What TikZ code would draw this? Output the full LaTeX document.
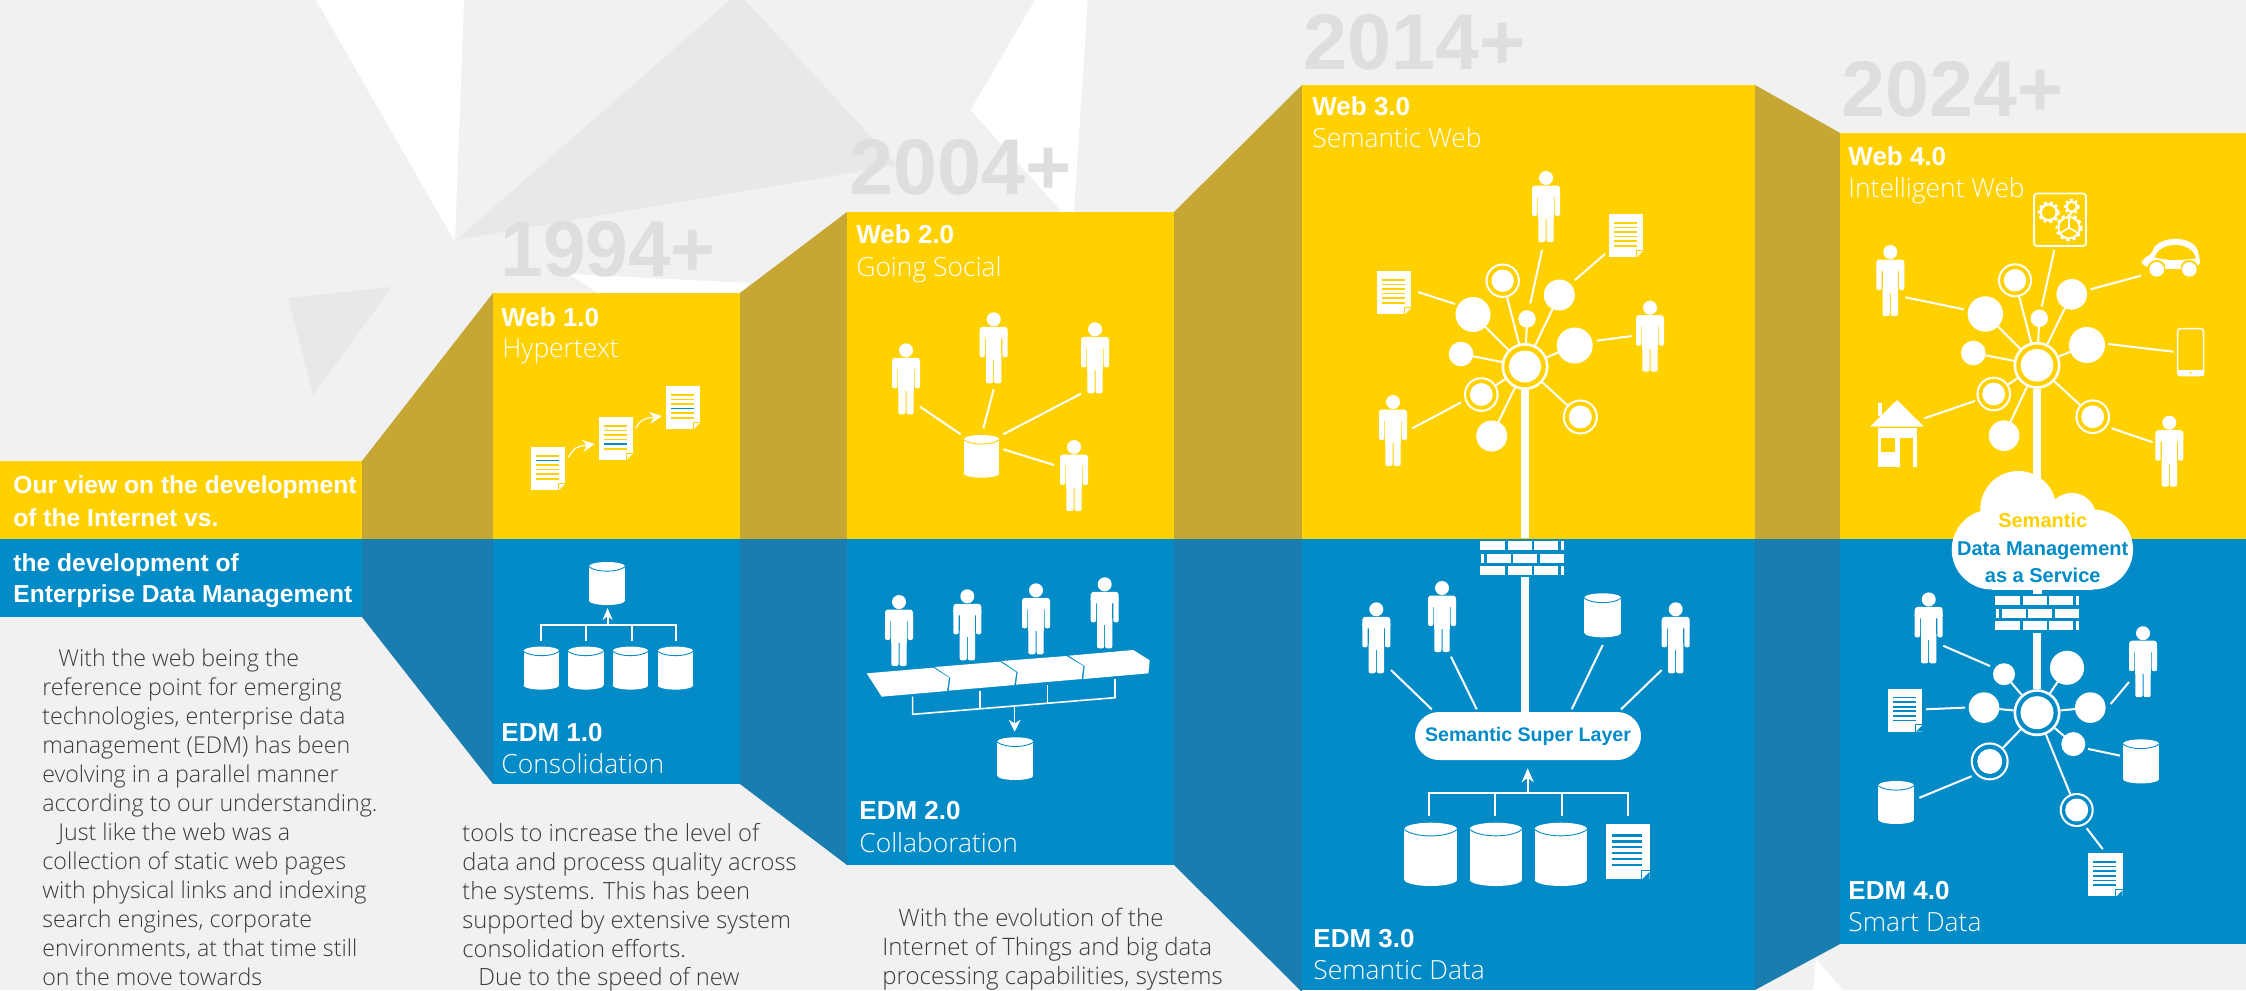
\documentclass[tikz,border=0pt]{standalone}
\usepackage{fontspec}
\setmainfont{Liberation Sans}
\newfontfamily\lightf{Open Sans Light}
\usetikzlibrary{arrows.meta}
\definecolor{webyellow}{HTML}{FFD100}
\definecolor{edmblue}{HTML}{038BC7}
\definecolor{sideolive}{HTML}{C6A734}
\definecolor{sideblue}{HTML}{1A7DB0}
\definecolor{pagebg}{HTML}{F1F1F1}
\definecolor{trigrey}{HTML}{E7E9E8}
\definecolor{yeargrey}{HTML}{DCDEDF}
\definecolor{bodygrey}{HTML}{3A3A3A}
\colorlet{bgc}{webyellow}
\tikzset{
  yeartext/.style={anchor=base west,inner sep=0pt,text=yeargrey,font=\fontsize{39.5pt}{40pt}\selectfont\bfseries},
  headbold/.style={anchor=base west,inner sep=0pt,text=white,font=\fontsize{13pt}{13pt}\selectfont\bfseries},
  headlight/.style={anchor=base west,inner sep=0pt,text=white,font=\fontsize{13.2pt}{13pt}\selectfont\lightf},
  bannertext/.style={anchor=base west,inner sep=0pt,text=white,font=\fontsize{12.3pt}{12.6pt}\selectfont\bfseries},
  bodytext/.style={anchor=base west,inner sep=0pt,text=bodygrey,font=\fontsize{11.6pt}{11.6pt}\selectfont\lightf},
  bodytextb/.style={bodytext,font=\fontsize{11.85pt}{11.6pt}\selectfont\lightf},
  bodytextc/.style={bodytext,font=\fontsize{12pt}{11.6pt}\selectfont\lightf},
  cloudtext/.style={anchor=base,inner sep=0pt,font=\fontsize{10pt}{10pt}\selectfont\bfseries},
  satnode/.style={circle,fill=white,draw=none,inner sep=0pt,outer sep=0pt},
  spoke/.style={draw=white,line width=1pt},
  link/.style={draw=white,line width=1pt},
  stem/.style={draw=white,line width=4pt},
  bus/.style={draw=white,line width=0.9pt},
  pics/person/.style={code={
    \fill[white] (0,7) circle (7);
    \fill[white,rounded corners=1.5pt] (-14,26) -- (-14,14.5) -- (14,14.5) -- (14,26) -- cycle;
    \fill[white,rounded corners=1pt] (-14,20) rectangle (-8.7,45);
    \fill[white,rounded corners=1pt] (8.7,20) rectangle (14,45);
    \fill[white] (-7.7,15) rectangle (7.7,48);
    \fill[white,rounded corners=1pt] (-7.7,40) rectangle (-0.5,71);
    \fill[white,rounded corners=1pt] (0.5,40) rectangle (7.7,71);
  }},
  pics/cyl/.style 2 args={code={
    \pgfmathsetmacro\cylry{#1*0.12}
    \pgfmathsetmacro\cylrx{#1*0.5}
    \fill[white] (\cylrx,\cylry) ellipse ({\cylrx} and {\cylry});
    \fill[white] (0,\cylry) rectangle (#1,#2-\cylry);
    \fill[white] (\cylrx,#2-\cylry) ellipse ({\cylrx} and {\cylry});
    \draw[bgc,line width=0.45pt] (0,\cylry+0.5) .. controls (#1*0.2,2.35*\cylry+0.5) and (#1*0.8,2.35*\cylry+0.5) .. (#1,\cylry+0.5);
  }},
  pics/docpage/.style={code={
    \fill[white] (0,0) rectangle (34.3,43);
    \foreach \i in {1,...,6}{
      \ifnum\i=#1\relax\def\linecol{edmblue}\else\def\linecol{bgc}\fi
      \fill[\linecol] (5,4.2+\i*4.6-0.85) rectangle (28,4.2+\i*4.6+0.85);
    }
    \fill[bgc] (34.3,37) -- (34.3,43) -- (28.3,43) -- cycle;
    \draw[bgc,line width=0.35pt] (27.5,43) -- (27.5,36) -- (34.3,36);
  }},
  pics/wall/.style={code={
    \foreach \a/\b in {0/25,27.7/51.7,54.3/78.3,81/84.3}{
      \fill[white] (\a,0) rectangle (\b,9.3);
      \fill[white] (\a,25) rectangle (\b,34);
    }
    \foreach \a/\b in {1/3.7,7.3/30.7,33.3/57.3,60/84.3}{
      \fill[white] (\a,12.7) rectangle (\b,21.7);
    }
  }},
}
\newcommand\satn[3]{\node[satnode,minimum size=#3 pt] (#1) at (#2) {};}
\newcommand\ringn[5]{\node[satnode,minimum size=#3 pt] (#1) at (#2) {};
  \fill[bgc] (#1.center) circle ({#3-#5});
  \fill[white] (#1.center) circle (#4);}
\newcommand\lnk[3]{\coordinate (#1a) at (#2); \coordinate (#1b) at (#3); \draw[link] (#1a) -- (#1b);}
\begin{document}
\begin{tikzpicture}[x=0.5pt,y=-0.5pt]
\useasboundingbox (0,0) rectangle (2246,990);
\clip (0,0) rectangle (2246,990);
\fill[pagebg] (0,0) rectangle (2246,990);
% background shards
\fill[white] (316,0) -- (464,0) -- (455,242) -- cycle;
\fill[trigrey] (456,240) -- (730,0) -- (745,0) -- (897,165) -- cycle;
\fill[trigrey] (288,298) -- (392,287) -- (313,395) -- cycle;
\fill[white] (569,274) -- (750,283) -- (740,293) -- (598,293) -- cycle;
\fill[white] (970.7,110) -- (1035,0) -- (1087.7,0) -- (1074,212) -- (1062,212) -- cycle;
\fill[white] (1816,959) -- (1843,990) -- (1813,990) -- cycle;
% year labels
\node[yeartext,xscale=0.97] (y94) at (500,276) {1994+};
\node[yeartext] (y04) at (849,194) {2004+};
\node[yeartext] (y14) at (1303,70) {2014+};
\node[yeartext] (y24) at (1841,117) {2024+};
% side panels
\fill[sideolive] (362,461) -- (493,293) -- (493,539) -- (362,539) -- cycle;
\fill[sideblue] (362,539) -- (493,539) -- (493,784) -- (362,617) -- cycle;
\fill[sideolive] (740,293) -- (847,212) -- (847,539) -- (740,539) -- cycle;
\fill[sideblue] (740,539) -- (847,539) -- (847,865) -- (740,784) -- cycle;
\fill[sideolive] (1174,212) -- (1302,85) -- (1302,539) -- (1174,539) -- cycle;
\fill[sideblue] (1174,539) -- (1302,539) -- (1302,992) -- (1174,865) -- cycle;
\fill[sideolive] (1755,85) -- (1840,133) -- (1840,539) -- (1755,539) -- cycle;
\fill[sideblue] (1755,539) -- (1840,539) -- (1840,944) -- (1755,990) -- cycle;
% boxes
\fill[webyellow] (0,461) rectangle (362,539);
\fill[edmblue] (0,539) rectangle (362,617);
\fill[webyellow] (493,293) rectangle (740,539);
\fill[edmblue] (493,539) rectangle (740,784);
\fill[webyellow] (847,212) rectangle (1174,539);
\fill[edmblue] (847,539) rectangle (1174,865);
\fill[webyellow] (1302,85) rectangle (1755,539);
\fill[edmblue] (1302,539) rectangle (1755,990);
\fill[webyellow] (1840,133) rectangle (2246,539);
\fill[edmblue] (1840,539) rectangle (2246,944);
% banner text
\node[bannertext] (b1) at (13,493) {Our view on the development};
\node[bannertext] (b2) at (13,526) {of the Internet vs.};
\node[bannertext] (b3) at (13,571) {the development of};
\node[bannertext] (b4) at (13,602) {Enterprise Data Management};
% headings
\node[headbold] (h1a) at (501,326) {Web 1.0};
\node[headlight] (h1b) at (502,357) {Hypertext};
\node[headbold] (h2a) at (856,243) {Web 2.0};
\node[headlight] (h2b) at (856,276) {Going Social};
\node[headbold] (h3a) at (1312,115) {Web 3.0};
\node[headlight] (h3b) at (1312,148) {Semantic Web};
\node[headbold] (h4a) at (1848,165) {Web 4.0};
\node[headlight] (h4b) at (1848,197) {Intelligent Web};
\node[headbold] (e1a) at (501,741) {EDM 1.0};
\node[headlight] (e1b) at (501,773) {Consolidation};
\node[headbold] (e2a) at (859,819) {EDM 2.0};
\node[headlight] (e2b) at (859,852) {Collaboration};
\node[headbold] (e3a) at (1313,947) {EDM 3.0};
\node[headlight] (e3b) at (1313,979) {Semantic Data};
\node[headbold] (e4a) at (1848,899) {EDM 4.0};
\node[headlight] (e4b) at (1848,931) {Smart Data};
% body text column 1
\node[bodytext] (c1l1) at (58,666) {With the web being the};
\node[bodytext] (c1l2) at (42,695) {reference point for emerging};
\node[bodytext] (c1l3) at (42,724) {technologies, enterprise data};
\node[bodytext] (c1l4) at (42,753) {management (EDM) has been};
\node[bodytext] (c1l5) at (42,782) {evolving in a parallel manner};
\node[bodytext] (c1l6) at (42,811) {according to our understanding.};
\node[bodytext] (c1l7) at (58,840) {Just like the web was a};
\node[bodytext] (c1l8) at (42,869) {collection of static web pages};
\node[bodytext] (c1l9) at (42,898) {with physical links and indexing};
\node[bodytext] (c1l10) at (42,927) {search engines, corporate};
\node[bodytext] (c1l11) at (42,956) {environments, at that time still};
\node[bodytext] (c1l12) at (42,985) {on the move towards};
% column 2
\node[bodytextb] (c2l1) at (462,841) {tools to increase the level of};
\node[bodytextb] (c2l2) at (462,870) {data and process quality across};
\node[bodytextb] (c2l3) at (462,899) {the systems. This has been};
\node[bodytextb] (c2l4) at (462,928) {supported by extensive system};
\node[bodytextb] (c2l5) at (462,957) {consolidation efforts.};
\node[bodytextb] (c2l6) at (478,985) {Due to the speed of new};
% column 3
\node[bodytextc] (c3l1) at (898,926) {With the evolution of the};
\node[bodytextc] (c3l2) at (882,955) {Internet of Things and big data};
\node[bodytextc] (c3l3) at (882,984) {processing capabilities, systems};
% --- Web 1.0
\begin{scope}
\colorlet{bgc}{webyellow}
\pic at (531,447) {docpage=2};
\pic at (598.5,417) {docpage=5};
\pic at (665.7,386) {docpage=4};
\coordinate (w1a) at (568.4,457.3); \coordinate (w1b) at (594.7,444);
\coordinate (w1c) at (635.4,428.3); \coordinate (w1d) at (661.7,416);
\draw[white,line width=0.6pt,-{Stealth[length=6pt,width=6pt]}] (w1a) .. controls (575,447) .. (w1b);
\draw[white,line width=0.6pt,-{Stealth[length=6pt,width=6pt]}] (w1c) .. controls (642,419) .. (w1d);
\end{scope}
% --- Web 2.0
\begin{scope}
\colorlet{bgc}{webyellow}
\pic at (906,343.3) {person};
\pic at (993.7,312.3) {person};
\pic at (1095,322.3) {person};
\pic at (1074,440) {person};
\pic at (963.7,435) {cyl={35.6}{42.7}};
\lnk{wa}{920,406.7}{960.7,434.3}
\lnk{wb}{993.7,389.3}{983.3,428.3}
\lnk{wc}{1081,393.7}{1003.3,434.3}
\lnk{wd}{1003.3,449.3}{1054,465}
\end{scope}
% --- Web 3.0 network
\begin{scope}
\colorlet{bgc}{webyellow}
\ringn{hubc}{1525,366.5}{23.5}{16}{2.7}
\satn{ca}{1473,314.5}{17.5}
\ringn{cb}{1502.7,280.7}{17.2}{11.2}{2.1}
\satn{cc}{1527,319}{8.7}
\satn{cd}{1559.3,295}{15.5}
\satn{ce}{1574.7,345.5}{18}
\satn{cf}{1461,354}{12.3}
\ringn{cg}{1481.3,394.5}{17.3}{11.4}{2.1}
\satn{ch}{1491.7,436}{15.5}
\ringn{ci}{1580.3,417}{17.5}{11.5}{2.1}
\foreach \n in {ca,cb,cc,cd,ce,cf,cg,ch,ci}{\draw[spoke] (hubc) -- (\n);}
\coordinate (cst) at (1525,538);
\draw[stem] (hubc) -- (cst);
\pic at (1546,171) {person};
\pic at (1650,300.7) {person};
\pic at (1393,395) {person};
\pic at (1609,214) {docpage=0};
\pic at (1377,271) {docpage=0};
\lnk{la}{1542,250}{1530.3,303.4}
\lnk{lb}{1605,254}{1575,280}
\lnk{lc}{1418,292}{1455,304}
\lnk{ld}{1631.7,336}{1596.7,340.7}
\lnk{le}{1461,402.4}{1412.3,428.3}
\end{scope}
% --- Web 4.0 network
\begin{scope}
\colorlet{bgc}{webyellow}
\ringn{hubd}{2037,365.3}{23.5}{16.3}{2.7}
\satn{da}{1985.3,314}{17.7}
\ringn{db}{2015,280.3}{17}{11.2}{2.1}
\satn{dc}{2039.3,318.3}{8.7}
\satn{dd}{2071.7,294.3}{15.3}
\satn{de}{2087,345}{18}
\satn{df}{1973.3,353}{12.3}
\ringn{dg}{1993.7,394}{17.3}{11.4}{2.1}
\satn{dh}{2004,435.7}{15.3}
\ringn{di}{2092.7,416.7}{17.3}{11.4}{2.1}
\foreach \n in {da,db,dc,dd,de,df,dg,dh,di}{\draw[spoke] (hubd) -- (\n);}
\coordinate (dst) at (2037,485);
\draw[stem] (hubd) -- (dst);
\pic at (1890.3,245) {person};
\pic at (2169.3,415.7) {person};
\lnk{ma}{2054.3,250}{2041.7,306.7}
\lnk{mb}{2090.7,289.3}{2141,275.7}
\lnk{mc}{1905.3,297.3}{1963.7,309.3}
\lnk{md}{2108.3,344}{2173.3,351.7}
\lnk{me}{1924.3,418.3}{1975,401}
\lnk{mf}{2111.7,428.3}{2152.7,442.3}
% gear box
\draw[white,line width=0.8pt,rounded corners=1.5pt] (2034,193.5) rectangle (2086,246);
\draw[white,line width=1.1pt] (2071.7,206.7) circle (5.2);
\draw[white,line width=0.9pt,dash pattern=on 1.3pt off 1.3pt] (2071.7,206.7) circle (7);
\draw[white,line width=1.2pt] (2048.7,212.3) circle (8);
\draw[white,line width=1pt,dash pattern=on 1.5pt off 1.5pt] (2048.7,212.3) circle (10);
\draw[white,line width=1pt] (2069,227.7) circle (10.7);
\draw[white,line width=1pt,dash pattern=on 1.6pt off 1.6pt] (2069,227.7) circle (12.6);
\draw[white,line width=0.8pt] (2069,227.7) -- (2069,216.5) (2069,227.7) -- (2059.5,233.5) (2069,227.7) -- (2078.5,233.5);
% car
\begin{scope}[shift={(1780,50)},x=0.16667pt,y=-0.16667pt]
\fill[white,rounded corners=3pt] (1085,650) -- (1085,625) -- (1112,618) .. controls (1135,555) and (1240,555) .. (1258,620) -- (1262,650) -- cycle;
\fill[bgc] (1124,622) .. controls (1140,572) and (1235,572) .. (1248,625) .. controls (1200,632) and (1160,632) .. cycle;
\fill[bgc] (1130,658) circle (28);
\fill[bgc] (1228,658) circle (28);
\fill[bgc] (1085,650) rectangle (1105,690);
\fill[bgc] (1253,650) rectangle (1270,690);
\fill[white] (1130,658) circle (22);
\fill[white] (1228,658) circle (22);
\fill[white] (1156,640) rectangle (1202,658);
\end{scope}
% tablet
\draw[white,line width=0.75pt,rounded corners=1.5pt] (2177.5,328.5) rectangle (2203.5,375.5);
\fill[white] (2177.5,370) rectangle (2203.5,375.5);
\fill[bgc] (2190.5,373) circle (1.2);
% house
\fill[white] (1897,400) -- (1924,426.7) -- (1870,426.7) -- cycle;
\fill[white] (1878.3,402.7) rectangle (1882.3,415.7);
\fill[white] (1878,428.3) rectangle (1916.7,466.7);
\fill[bgc] (1881.3,438.3) rectangle (1895,451.7);
\fill[bgc] (1900,438.3) rectangle (1913.3,466.7);
\end{scope}
% --- EDM 1.0
\begin{scope}
\colorlet{bgc}{edmblue}
\pic at (589,562) {cyl={36}{43}};
\pic at (523.5,646.6) {cyl={35.5}{43}};
\pic at (568,646.6) {cyl={35.5}{43}};
\pic at (612.7,646.6) {cyl={35.5}{43}};
\pic at (657.7,646.6) {cyl={35.5}{43}};
\coordinate (ea) at (541,641.4); \coordinate (ea2) at (541,625);
\coordinate (eb) at (676,641.4); \coordinate (eb2) at (676,625);
\coordinate (ec) at (585.7,641.4); \coordinate (ec2) at (585.7,625);
\coordinate (ed) at (631.6,641.4); \coordinate (ed2) at (631.6,625);
\coordinate (ee) at (607.6,625); \coordinate (ee2) at (607.6,608);
\draw[bus] (ea) -- (ea2) -- (eb2) -- (eb);
\draw[bus] (ec) -- (ec2);
\draw[bus] (ed) -- (ed2);
\draw[bus,-{Stealth[length=6pt,width=5pt]}] (ee) -- (ee2);
\end{scope}
% --- EDM 2.0
\begin{scope}
\colorlet{bgc}{edmblue}
\pic at (899,595) {person};
\pic at (967.3,589.3) {person};
\pic at (1036,583.3) {person};
\pic at (1104.7,577.3) {person};
\begin{scope}[shift={(800,530)},x=0.16667pt,y=-0.16667pt]
\fill[white] (200,430) -- (400,413) -- (447,443) -- (441,483) -- (245,500) -- cycle;
\fill[white] (404,411) -- (600,395) -- (649,427) -- (643,465) -- (446,482) -- (451,443) -- cycle;
\fill[white] (604,393) -- (799,378) -- (850,408) -- (845,447) -- (648,464) -- (653,426) -- cycle;
\fill[white] (806,377) -- (1000,360) -- (1049,391) -- (1045,430) -- (850,447) -- (854,408) -- cycle;
\coordinate (fa) at (338,500); \coordinate (fb) at (338,553); \coordinate (fc) at (945,503); \coordinate (fd) at (945,447);
\coordinate (fe) at (540,484); \coordinate (fe2) at (540,535);
\coordinate (ff) at (743,465); \coordinate (ff2) at (743,518);
\coordinate (fg) at (644,530); \coordinate (fg2) at (644,605);
\draw[bus,line width=0.8pt] (fa) -- (fb) -- (fc) -- (fd);
\draw[bus,line width=0.8pt] (fe) -- (fe2);
\draw[bus,line width=0.8pt] (ff) -- (ff2);
\draw[bus,line width=0.7pt,-{Stealth[length=6pt,width=6pt]}] (fg) -- (fg2);
\end{scope}
\pic at (997.3,737.3) {cyl={36}{42.7}};
\end{scope}
% --- EDM 3.0
\begin{scope}
\colorlet{bgc}{edmblue}
\coordinate (gtab) at (1525,538);
\pic at (1480,541) {wall};
\node[fill=white,inner sep=0pt,minimum width=113pt,minimum height=24pt,rounded corners=12pt,text=edmblue,font=\fontsize{9.8pt}{10pt}\selectfont\bfseries] (pill) at (1528,736) {Semantic Super Layer};
\coordinate (gw) at (1525,577);
\draw[stem] (gw) -- (gw |- pill.north);
\pic at (1376.3,602.3) {person};
\pic at (1442,581) {person};
\pic at (1675.7,602.3) {person};
\pic at (1584.3,593.3) {cyl={36.7}{44}};
\lnk{ga}{1391,670}{1431.7,709.3}
\lnk{gb}{1451,656.7}{1476.7,709.3}
\lnk{gc}{1602.7,645}{1571.7,709.3}
\lnk{gd}{1661.7,670}{1621,709.3}
\coordinate (ha) at (1429.3,815.7); \coordinate (ha2) at (1429.3,792.7);
\coordinate (hb) at (1627.7,815.7); \coordinate (hb2) at (1627.7,792.7);
\coordinate (hc) at (1495.3,815.7); \coordinate (hc2) at (1495.3,792.7);
\coordinate (hd) at (1561.7,815.7); \coordinate (hd2) at (1561.7,792.7);
\coordinate (he) at (1527.7,792.7); \coordinate (he2) at (1527.7,768.3);
\draw[bus,line width=1pt] (ha) -- (ha2) -- (hb2) -- (hb);
\draw[bus,line width=1pt] (hc) -- (hc2);
\draw[bus,line width=1pt] (hd) -- (hd2);
\draw[bus,-{Stealth[length=7pt,width=6pt]}] (he) -- (he2);
\pic at (1404.3,822.7) {cyl={52.7}{63.3}};
\pic at (1469.7,822.7) {cyl={52.3}{63.3}};
\pic at (1534.7,822.7) {cyl={52.3}{63.3}};
\pic[scale=1.28] at (1605.7,824.3) {docpage=0};
\end{scope}
% --- EDM 4.0 network and cloud
\begin{scope}
\colorlet{bgc}{edmblue}
\ringn{hube}{2037,712.7}{23.5}{16.5}{2.7}
\satn{ka}{2004,674.2}{11}
\satn{kb}{2067,667.8}{17}
\satn{kc}{1984,707.6}{15.3}
\satn{kd}{2090.3,707.6}{15.3}
\satn{ke}{2073.3,744.1}{12}
\ringn{kf}{1989.7,761.4}{19}{12.5}{2.2}
\ringn{kg}{2076.7,810}{17}{11.5}{2.1}
\foreach \n in {ka,kb,kc,kd,ke,kf,kg}{\draw[spoke] (hube) -- (\n);}
\coordinate (kst) at (2037,633);
\draw[stem] (hube) -- (kst);
\pic at (1928.7,592.4) {person};
\pic at (2143,626.2) {person};
\pic at (1887.7,688.7) {docpage=0};
\pic at (2088.3,853.2) {docpage=0};
\pic at (2123,739.4) {cyl={36}{44}};
\pic at (1878.3,781) {cyl={35.7}{43}};
\lnk{na}{1943.3,645.8}{1990,666}
\lnk{nb}{1926,709.3}{1965,707.6}
\lnk{nc}{2129,682}{2110.7,703.9}
\lnk{nd}{2088,748.9}{2120,755.6}
\lnk{ne}{1919.3,797.8}{1971.7,776.2}
\lnk{nf}{2086.7,828.2}{2102.7,849.2}
\pic at (1995,596) {wall};
\fill[white] (2033,585) rectangle (2041.7,593.5);
\fill[white] (2018.3,509) circle (38);
\fill[white] (2071.7,517.4) circle (24.5);
\fill[white] (1991.7,549.5) circle (40);
\fill[white] (2093,549.5) circle (40);
\fill[white] (1992,520) rectangle (2093,589.5);
\node[cloudtext,text=webyellow] (s1) at (2042.7,527.6) {Semantic};
\node[cloudtext,text=edmblue] (s2) at (2042.7,555) {Data Management};
\node[cloudtext,text=edmblue] (s3) at (2042.7,582) {as a Service};
\end{scope}
\end{tikzpicture}
\end{document}
